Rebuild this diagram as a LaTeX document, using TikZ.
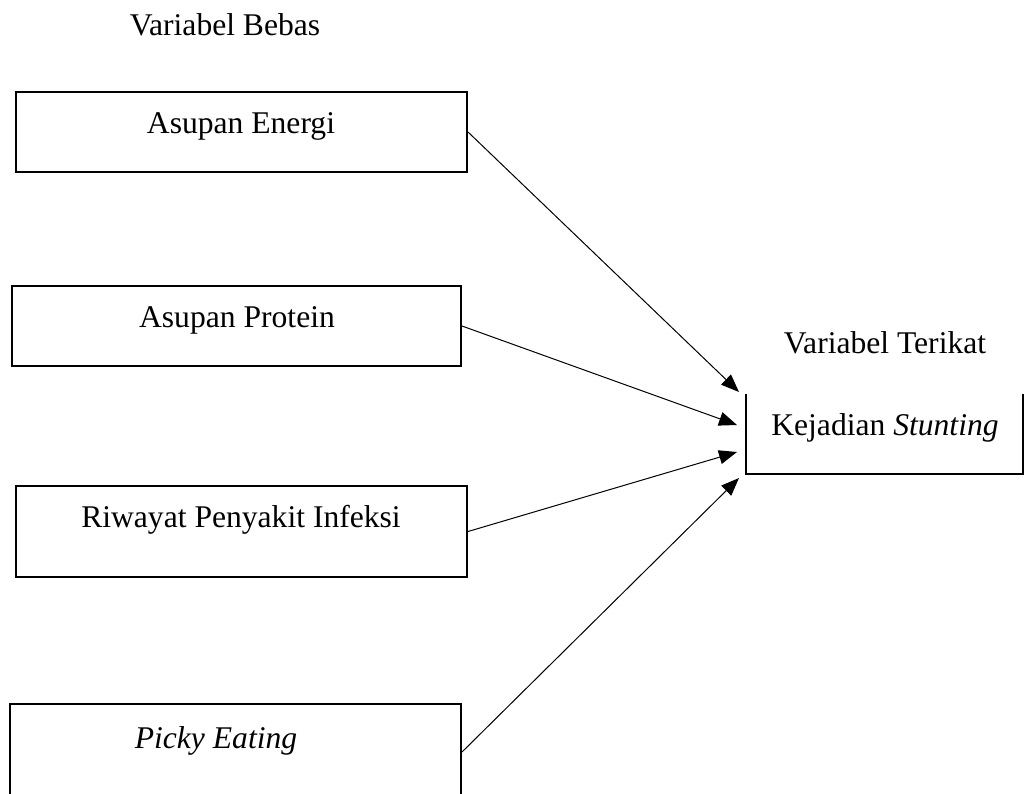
\documentclass[tikz,border=0pt]{standalone}
\usepackage{fontspec}
\setmainfont{Liberation Serif}
\usetikzlibrary{arrows.meta}
\begin{document}
\begin{tikzpicture}[x=0.5pt,y=-0.5pt]
		\tikzset{box/.style = {shape=rectangle,draw,line width=1pt,inner sep=0pt,minimum width=225.5pt}}
		\tikzset{txt/.style = {anchor=base,inner sep=0pt,font=\fontsize{15.8}{19}\selectfont}}
		\tikzset{arrow/.style = {-{Triangle[length=9pt,width=7pt]},line width=0.5pt}}
		\useasboundingbox (0,0) rectangle (1025,794);
		\node[txt] (bebas) at (225,35) {Variabel Bebas};
		\node[box,minimum height=40pt] (energi) at (241.5,132) {};
		\node[box,minimum width=224.5pt,minimum height=40pt] (protein) at (236.5,326) {};
		\node[box,minimum height=45.5pt] (infeksi) at (241.5,531.5) {};
		\node[box,minimum height=48pt] (picky) at (235.5,752) {};
		\node[txt] (energitxt) at (241,133) {Asupan Energi};
		\node[txt] (proteintxt) at (237,327) {Asupan Protein};
		\node[txt] (infeksitxt) at (241,527) {Riwayat Penyakit Infeksi};
		\node[txt] (pickytxt) at (216,748) {\textit{Picky Eating}};
		\node[txt] (terikat) at (885,353) {Variabel Terikat};
		\node[minimum width=138.5pt,minimum height=40pt,inner sep=0pt] (stunting) at (884.5,434) {};
		\node[txt] (stuntingtxt) at (885,435) {Kejadian \textit{Stunting}};
		\draw[line width=1pt] (stunting.north west) -- (stunting.south west) -- (stunting.south east) -- (stunting.north east);
		\coordinate (t1) at (739,392);
		\coordinate (t2) at (737,425);
		\coordinate (t3) at (737,452);
		\coordinate (t4) at (739,478);
		\path[arrow] (energi.east) edge (t1);
		\path[arrow] (protein.east) edge (t2);
		\path[arrow] (infeksi.east) edge (t3);
		\path[arrow] (picky.east) edge (t4);
	\end{tikzpicture}
\end{document}
